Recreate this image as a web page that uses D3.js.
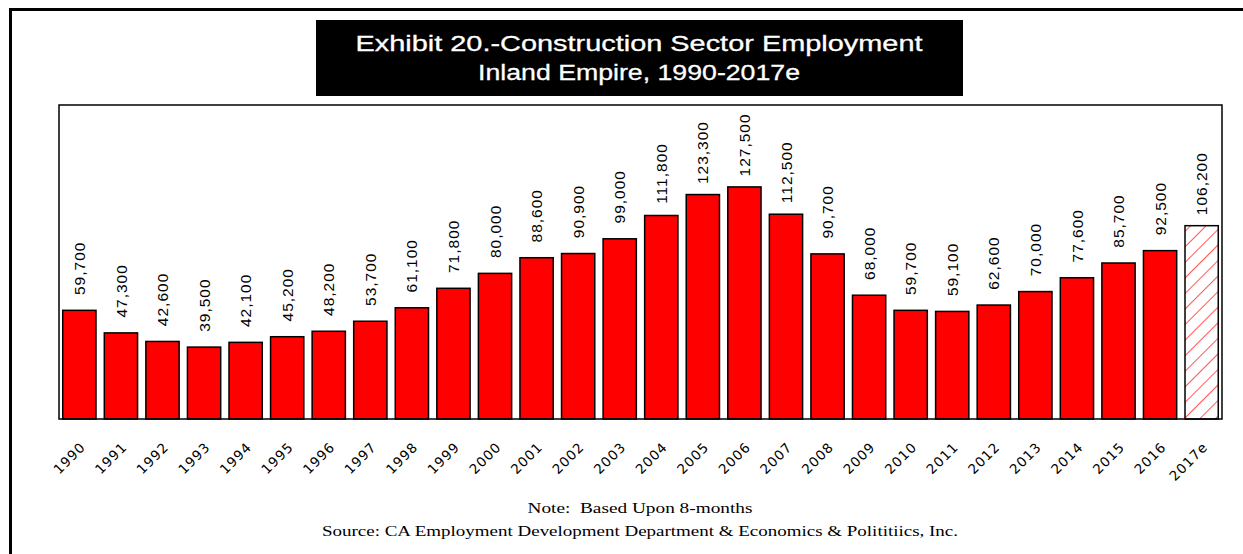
<!DOCTYPE html>
<html>
<head>
<meta charset="utf-8">
<script src="https://d3js.org/d3.v7.min.js"></script>
<style>
  body { margin: 0; background: #fff; }
</style>
</head>
<body>
<div id="graph"></div>
<script>
    var years = ["1990", "1991", "1992", "1993", "1994", "1995", "1996", "1997", "1998", "1999",
        "2000", "2001", "2002", "2003", "2004", "2005", "2006", "2007", "2008", "2009",
        "2010", "2011", "2012", "2013", "2014", "2015", "2016", "2017e"];
    var employment = [59700, 47300, 42600, 39500, 42100, 45200, 48200, 53700, 61100, 71800,
        80000, 88600, 90900, 99000, 111800, 123300, 127500, 112500, 90700, 68000,
        59700, 59100, 62600, 70000, 77600, 85700, 92500, 106200];
    var estimateYear = "2017e";
    var titleLines = ["Exhibit 20.-Construction Sector Employment", "Inland Empire, 1990-2017e"];
    var noteText = "Note:\u00a0\u00a0Based Upon 8-months";
    var sourceText = "Source: CA Employment Development Department & Economics & Polititiics, Inc.";

    var W = 1243, H = 554;
    var plot = { left: 59, right: 1222, top: 105, bottom: 419 };

    var svg = d3.select("#graph")
        .append("svg")
        .attr("width", W)
        .attr("height", H);

    var defs = svg.append("defs");
    var hatch = defs.append("pattern")
        .attr("id", "hatch")
        .attr("patternUnits", "userSpaceOnUse")
        .attr("width", 11)
        .attr("height", 11)
        .attr("patternTransform", "rotate(45)");
    hatch.append("rect").attr("width", 11).attr("height", 11).attr("fill", "#fff");
    hatch.append("line")
        .attr("x1", 0).attr("y1", 0).attr("x2", 0).attr("y2", 11)
        .attr("stroke", "#ff1010").attr("stroke-width", 1.4);

    // outer page frame (runs off the right and bottom edges)
    svg.append("rect")
        .attr("x", 10.5).attr("y", 9.5)
        .attr("width", 1300).attr("height", 600)
        .attr("fill", "none").attr("stroke", "#000").attr("stroke-width", 3);

    // title box
    svg.append("rect")
        .attr("x", 316).attr("y", 20)
        .attr("width", 647).attr("height", 76)
        .attr("fill", "#000");
    svg.selectAll(".title")
        .data(titleLines)
        .enter()
        .append("text")
        .attr("class", "title")
        .attr("x", 639)
        .attr("y", function (d, i) { return 51 + i * 29; })
        .attr("text-anchor", "middle")
        .attr("textLength", function (d, i) { return i == 0 ? 567 : 322; })
        .attr("lengthAdjust", "spacingAndGlyphs")
        .style("font-family", "'Liberation Sans Narrow', 'Liberation Sans', Arial, sans-serif")
        .style("font-size", "22px")
        .style("fill", "#fff")
        .style("stroke", "#fff")
        .style("stroke-width", "0.3px")
        .text(function (d) { return d; });

    var x = d3.scaleBand()
        .domain(years)
        .range([plot.left, plot.right])
        .paddingInner(0.2)
        .paddingOuter(0.09);

    var y = d3.scaleLinear()
        .domain([0, 172500])
        .range([plot.bottom, plot.top]);

    var fmt = d3.format(",");

    var data = years.map(function (yr, i) { return { year: yr, value: employment[i] }; });

    svg.append("g")
        .selectAll("rect")
        .data(data)
        .enter()
        .append("rect")
        .attr("x", function (d) { return x(d.year); })
        .attr("y", function (d) { return y(d.value); })
        .attr("width", x.bandwidth())
        .attr("height", function (d) { return y(0) - y(d.value); })
        .attr("fill", function (d) { return d.year == estimateYear ? "url(#hatch)" : "#ff0000"; })
        .attr("stroke", "#000")
        .attr("stroke-width", 1.5);

    // value labels, rotated, centred a fixed distance above each bar
    svg.append("g")
        .selectAll("text")
        .data(data)
        .enter()
        .append("text")
        .attr("transform", function (d) {
            return "translate(" + (x(d.year) + x.bandwidth() / 2) + "," + (y(d.value) - 42) + ") rotate(-90)";
        })
        .attr("text-anchor", "middle")
        .attr("dy", "0.36em")
        .style("font-family", "'Liberation Sans', Arial, sans-serif")
        .style("font-size", "15.5px")
        .style("letter-spacing", "1px")
        .style("fill", "#000")
        .text(function (d) { return fmt(d.value); });

    // plot frame
    svg.append("rect")
        .attr("x", plot.left).attr("y", plot.top)
        .attr("width", plot.right - plot.left)
        .attr("height", plot.bottom - plot.top)
        .attr("fill", "none").attr("stroke", "#000").attr("stroke-width", 1.5);

    // year labels at 45 degrees
    var xAxis = svg.append("g")
        .attr("transform", "translate(0," + plot.bottom + ")")
        .call(d3.axisBottom(x).tickSize(0).tickPadding(0));
    xAxis.select(".domain").remove();
    xAxis.selectAll("text")
        .attr("y", 0)
        .attr("dy", 0)
        .attr("text-anchor", "end")
        .attr("transform", "translate(7,29) rotate(-45)")
        .style("font-family", "'DejaVu Sans', sans-serif")
        .style("font-size", "13.5px")
        .style("letter-spacing", "1px")
        .style("fill", "#000");

    // footnotes
    svg.append("text")
        .attr("x", 640).attr("y", 513)
        .attr("text-anchor", "middle")
        .attr("textLength", 225)
        .attr("lengthAdjust", "spacingAndGlyphs")
        .style("font-family", "'Liberation Serif', 'Times New Roman', serif")
        .style("font-size", "14px")
        .text(noteText);

    svg.append("text")
        .attr("x", 640).attr("y", 536)
        .attr("text-anchor", "middle")
        .attr("textLength", 636)
        .attr("lengthAdjust", "spacingAndGlyphs")
        .style("font-family", "'Liberation Serif', 'Times New Roman', serif")
        .style("font-size", "14px")
        .text(sourceText);
</script>
</body>
</html>
